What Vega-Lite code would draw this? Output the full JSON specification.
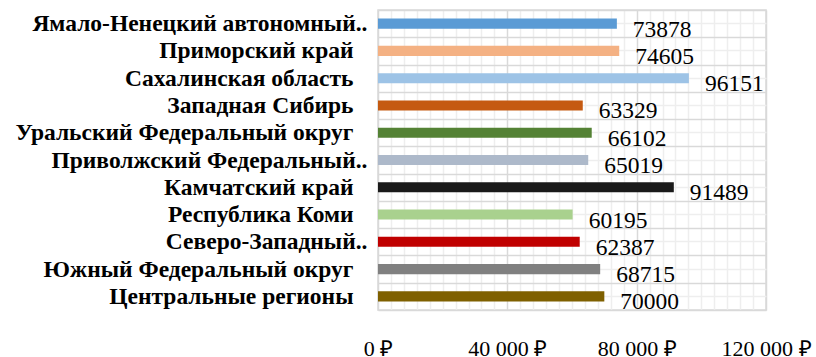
{
  "$schema": "https://vega.github.io/schema/vega-lite/v6.json",
  "width": 388,
  "height": 300,
  "autosize": {"type": "none"},
  "padding": {"left": 378, "top": 10, "right": 50, "bottom": 47},
  "background": "white",
  "config": {"view": {"stroke": "#d9d9d9", "strokeWidth": 1.5}, "font": "Liberation Serif"},
  "data": {"values": [
    {"region": "Ямало-Ненецкий автономный..", "value": 73878},
    {"region": "Приморский край", "value": 74605},
    {"region": "Сахалинская область", "value": 96151},
    {"region": "Западная Сибирь", "value": 63329},
    {"region": "Уральский Федеральный округ", "value": 66102},
    {"region": "Приволжский Федеральный..", "value": 65019},
    {"region": "Камчатский край", "value": 91489},
    {"region": "Республика Коми", "value": 60195},
    {"region": "Северо-Западный..", "value": 62387},
    {"region": "Южный Федеральный округ", "value": 68715},
    {"region": "Центральные регионы", "value": 70000}
  ]},
  "layer": [
    {
      "mark": {"type": "bar", "height": {"band": 0.37}},
      "encoding": {
        "y": {"field": "region", "type": "nominal", "sort": null,
          "scale": {"paddingInner": 0, "paddingOuter": 0},
          "axis": {"title": null, "tickBand": "extent", "grid": true, "gridColor": "#d9d9d9", "gridWidth": 1.5,
            "domain": false, "ticks": false, "labelFont": "Liberation Serif", "labelFontSize": 23.5, "labelFontWeight": "bold", "labelColor": "black",
            "labelPadding": {"condition": {"test": "indexof(datum.label, '..') >= 0", "value": 11}, "value": 25}, "labelLimit": 400}},
        "x": {"field": "value", "type": "quantitative", "scale": {"domain": [0, 120000], "nice": false},
          "axis": {"values": [0,4000,8000,12000,16000,20000,24000,28000,32000,36000,40000,44000,48000,52000,56000,60000,64000,68000,72000,76000,80000,84000,88000,92000,96000,100000,104000,108000,112000,116000,120000],
            "title": null, "domain": false, "ticks": false, "labelOverlap": false, "labelFlush": false, "labelBound": false,
            "labelExpr": "datum.value % 40000 === 0 ? (datum.value === 0 ? '0 ₽' : (datum.value/1000) + ' 000 ₽') : ''",
            "labelFont": "Liberation Serif", "labelFontSize": 22, "labelPadding": 28, "labelColor": "black",
            "gridColor": {"condition": {"test": "datum.value % 40000 === 0", "value": "#d9d9d9"}, "value": "#eeeeee"},
            "gridWidth": 1.5}},
        "color": {"field": "region", "type": "nominal", "legend": null,
          "scale": {"domain": ["Ямало-Ненецкий автономный..", "Приморский край", "Сахалинская область", "Западная Сибирь", "Уральский Федеральный округ", "Приволжский Федеральный..", "Камчатский край", "Республика Коми", "Северо-Западный..", "Южный Федеральный округ", "Центральные регионы"],
            "range": ["#5B9BD5", "#F4B183", "#9DC3E6", "#C55A11", "#548235", "#ADB9CA", "#1a1a1a", "#A9D18E", "#C00000", "#808080", "#7F6000"]}}
      }
    },
    {
      "mark": {"type": "text", "align": "left", "baseline": "middle", "dx": 16, "dy": 6, "fontSize": 23.5, "font": "Liberation Serif", "color": "black"},
      "encoding": {
        "y": {"field": "region", "type": "nominal", "sort": null,
          "axis": {"orient": "right", "title": null, "grid": true, "tickBand": "center", "gridColor": "#eeeeee", "gridWidth": 1.5,
            "labels": false, "ticks": false, "domain": false}},
        "x": {"field": "value", "type": "quantitative", "axis": null},
        "text": {"field": "value", "type": "quantitative", "format": "d"}
      }
    }
  ],
  "resolve": {"axis": {"y": "independent", "x": "independent"}}
}
